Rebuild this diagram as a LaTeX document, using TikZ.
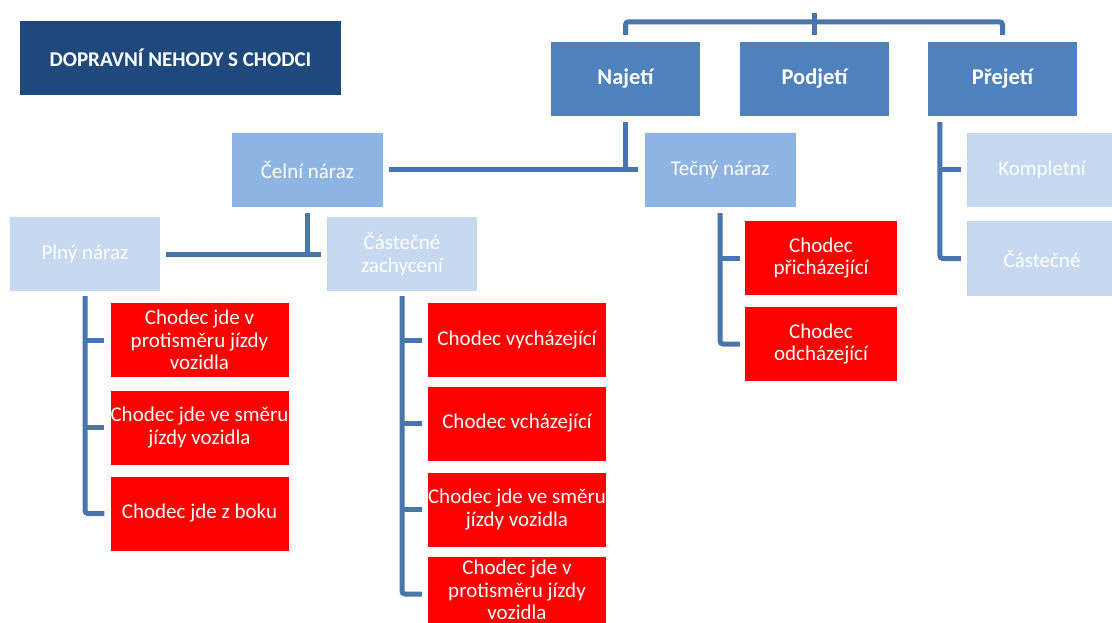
\documentclass[tikz,border=0pt]{standalone}
\usepackage{fontspec}
\setmainfont{Carlito}
\usetikzlibrary{calc}
\definecolor{titelblau}{RGB}{31,73,125}
\definecolor{dunkelblau}{RGB}{79,129,189}
\definecolor{mittelblau}{RGB}{142,180,227}
\definecolor{hellblau}{RGB}{198,217,240}
\definecolor{linienblau}{RGB}{72,117,172}

\begin{document}
\begin{tikzpicture}[x=1pt,y=-1pt,
  kasten/.style={text=white, align=center, inner sep=0pt, minimum width=150pt, minimum height=74pt, font=\fontsize{21}{22.5}\selectfont},
  titel/.style={kasten, fill=titelblau, minimum width=321pt, font=\bfseries\fontsize{21}{23}\selectfont},
  haupt/.style={kasten, fill=dunkelblau, minimum width=149pt, font=\bfseries\fontsize{22.5}{24}\selectfont},
  mittel/.style={kasten, fill=mittelblau, minimum width=151pt},
  hell/.style={kasten, fill=hellblau},
  rot/.style={kasten, fill=red, minimum width=178pt},
  linie/.style={draw=linienblau, line width=5pt, rounded corners=3pt}]
\useasboundingbox (0,0) rectangle (1112,623);
\clip (0,0) rectangle (1112,623);

%TITEL
\node (titel) [titel] at (180.5,58) {DOPRAVNÍ NEHODY S CHODCI};

%EBENE NR. 0 (von oben)
\coordinate (wurzel) at (814.5,13);
\node (najeti) [haupt] at (625.5,79) {Najetí};
\node (podjeti) [haupt] at (814.5,79) {Podjetí};
\node (prejeti) [haupt] at (1002.5,79) {Přejetí};

\draw [linie] ([yshift=7pt]najeti.north) -- ++(0,-13) -| ([yshift=7pt]prejeti.north);
\draw [linie] (wurzel) -- ([yshift=7pt]podjeti.north);

%EBENE NR. 1 (von oben)
\node (celni) [mittel] at (307.5,170) {Čelní náraz};
\node (tecny) [mittel] at (720,170) {Tečný náraz};
\node (kompletni) [hell] at (1042,170) {Kompletní};
\node (castecne) [hell] at (1042,258.5) {Částečné};

\draw [linie] ([yshift=-6pt]najeti.south) -- (najeti.south |- celni.east);
\draw [linie] ([xshift=6pt]celni.east) -- ([xshift=-6pt]tecny.west);
\draw [linie] ([xshift=12pt,yshift=-6pt]prejeti.south west) |- ([xshift=-6pt]castecne.west);
\draw [linie] ([xshift=12pt]prejeti.south west |- kompletni.west) -- ([xshift=-6pt]kompletni.west);

%EBENE NR. 2 (von oben)
\node (plny) [hell] at (85,254) {Plný náraz};
\node (zachyceni) [hell] at (402,254) {Částečné\\zachycení};

\draw [linie] ([yshift=-6pt]celni.south) -- (celni.south |- plny.east);
\draw [linie] ([xshift=6pt]plny.east) -- ([xshift=-6pt]zachyceni.west);

%ELEMENTE UNTER PLNÝ NÁRAZ
\node (plnyA) [rot] at (199.5,340) {Chodec jde v\\protisměru jízdy\\vozidla};
\node (plnyB) [rot] at (199.5,427.5) {Chodec jde ve směru\\jízdy vozidla};
\node (plnyC) [rot] at (199.5,513.5) {Chodec jde z boku};

\draw [linie] ([yshift=-5pt]plny.south) |- ([xshift=-6pt]plnyC.west);
\draw [linie] (plny.south |- plnyA.west) -- ([xshift=-6pt]plnyA.west);
\draw [linie] (plny.south |- plnyB.west) -- ([xshift=-6pt]plnyB.west);

%ELEMENTE UNTER ČÁSTEČNÉ ZACHYCENÍ
\node (zachA) [rot] at (517,340) {Chodec vycházející};
\node (zachB) [rot] at (517,423.5) {Chodec vcházející};
\node (zachC) [rot] at (517,509.5) {Chodec jde ve směru\\jízdy vozidla};
\node (zachD) [rot] at (517,594) {};
\node (zachDtext) [kasten, minimum height=0pt] at (517,590) {Chodec jde v\\protisměru jízdy\\vozidla};

\draw [linie] ([yshift=-5pt]zachyceni.south) |- ([xshift=-6pt]zachD.west);
\draw [linie] (zachyceni.south |- zachA.west) -- ([xshift=-6pt]zachA.west);
\draw [linie] (zachyceni.south |- zachB.west) -- ([xshift=-6pt]zachB.west);
\draw [linie] (zachyceni.south |- zachC.west) -- ([xshift=-6pt]zachC.west);

%ELEMENTE UNTER TEČNÝ NÁRAZ
\node (tecnyA) [rot, minimum width=152pt] at (821,258) {Chodec\\přicházející};
\node (tecnyB) [rot, minimum width=152pt] at (821,344) {Chodec\\odcházející};

\draw [linie] ([yshift=-6pt]tecny.south) |- ([xshift=-5pt]tecnyB.west);
\draw [linie] (tecny.south |- tecnyA.west) -- ([xshift=-5pt]tecnyA.west);

\end{tikzpicture}
\end{document}
